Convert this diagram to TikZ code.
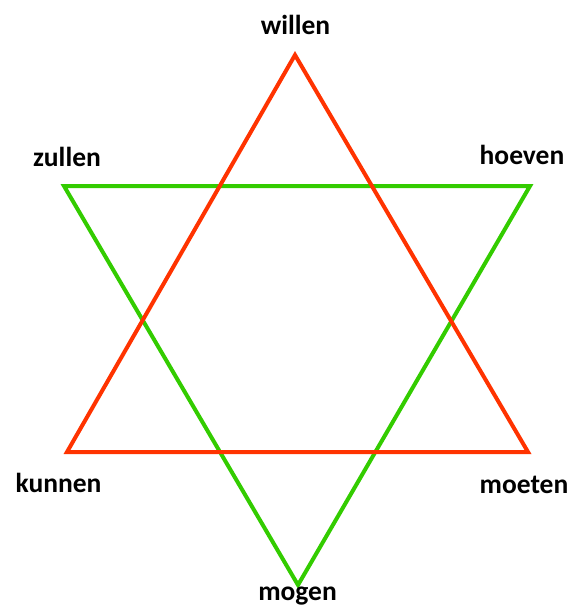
\documentclass[tikz,border=0pt]{standalone}
\usepackage{fontspec}
\setmainfont{Carlito}
\usetikzlibrary{positioning}
\definecolor{rood}{HTML}{FF3300}
\definecolor{groen}{HTML}{33CC00}

\begin{document}
\begin{tikzpicture}[x=1pt,y=-1pt,
    woord/.style={font=\bfseries\fontsize{27.5}{27.5}\selectfont, inner sep=0pt, anchor=base},
    lijn/.style={line width=4pt, line join=miter}]
        \useasboundingbox (0,0) rectangle (572,607);
        
        % Hoekpunten
        \coordinate (W) at (295,55);
        \coordinate (K) at (67,452);
        \coordinate (M) at (528,452);
        \coordinate (Z) at (64,186);
        \coordinate (H) at (530,186);
        \coordinate (G) at (298,585);
        
        % Driehoeken
        \draw[lijn, groen] (Z) -- (H) -- (G) -- cycle;
        \draw[lijn, rood] (W) -- (K) -- (M) -- cycle;
        
        % Woorden
        \node[woord] (willen) at (295.5,35) {willen};
        \node[woord] (zullen) at (67,166) {zullen};
        \node[woord] (hoeven) at (522,164) {hoeven};
        \node[woord] (kunnen) at (58.5,492) {kunnen};
        \node[woord] (moeten) at (524,493) {moeten};
        \node[woord] (mogen) at (297.5,600.5) {mogen};
    \end{tikzpicture}
\end{document}
